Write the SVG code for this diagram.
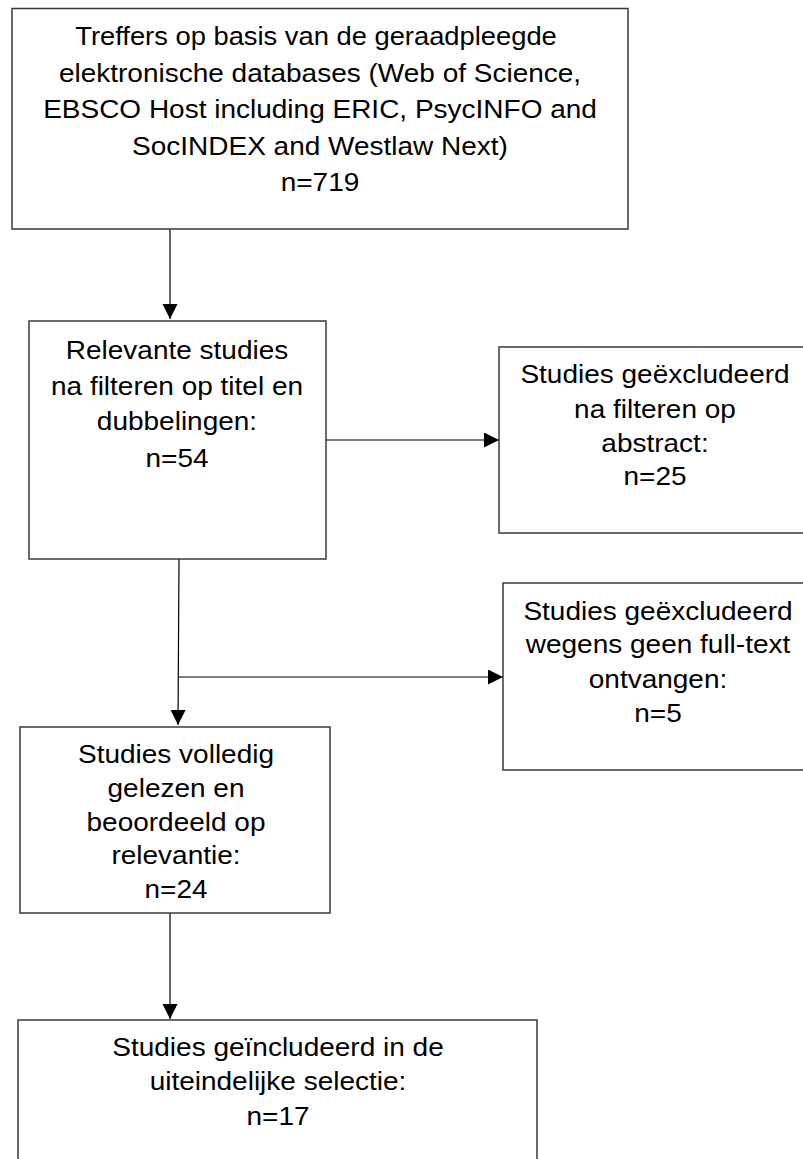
<svg xmlns="http://www.w3.org/2000/svg" width="803" height="1159" viewBox="0 0 803 1159">
  <defs>
    <marker id="arr" markerUnits="userSpaceOnUse" markerWidth="16" markerHeight="16" refX="15" refY="7.5" orient="auto">
      <path d="M0,0 L15,7.5 L0,15 Z" fill="#000"/>
    </marker>
  </defs>
  <style>
    .box { fill: #fff; stroke: #3a3a3a; stroke-width: 1.5; }
    .t { font-family: "Liberation Sans", Arial, sans-serif; font-size: 25px; fill: #000; text-anchor: middle; }
    .c { stroke: #000; stroke-width: 1.2; fill: none; }
  </style>
  <rect width="803" height="1159" fill="#fff"/>

  <g id="connectors">
    <line class="c" x1="170" y1="229" x2="170" y2="319" marker-end="url(#arr)"/>
    <line class="c" x1="326" y1="440" x2="499" y2="440" marker-end="url(#arr)"/>
    <line class="c" x1="179" y1="559" x2="178" y2="725" marker-end="url(#arr)"/>
    <line class="c" x1="179" y1="677" x2="503" y2="677" marker-end="url(#arr)"/>
    <line class="c" x1="170" y1="913" x2="170" y2="1019" marker-end="url(#arr)"/>
  </g>

  <g id="node1">
    <rect class="box" x="12" y="8.5" width="616" height="220.5"/>
    <text class="t" transform="translate(316 0) scale(1.12 1)" x="0" y="45" textLength="430" lengthAdjust="spacingAndGlyphs">Treffers op basis van de geraadpleegde</text>
    <text class="t" transform="translate(320 0) scale(1.12 1)" x="0" y="82">elektronische databases (Web of Science,</text>
    <text class="t" transform="translate(320 0) scale(1.12 1)" x="0" y="118">EBSCO Host including ERIC, PsycINFO and</text>
    <text class="t" transform="translate(320 0) scale(1.12 1)" x="0" y="155">SocINDEX and Westlaw Next)</text>
    <text class="t" transform="translate(320 0) scale(1.12 1)" x="0" y="191">n=719</text>
  </g>

  <g id="node2">
    <rect class="box" x="29" y="321" width="297" height="238"/>
    <text class="t" transform="translate(177 0) scale(1.12 1)" x="0" y="359">Relevante studies</text>
    <text class="t" transform="translate(177 0) scale(1.12 1)" x="0" y="395">na filteren op titel en</text>
    <text class="t" transform="translate(177 0) scale(1.12 1)" x="0" y="430">dubbelingen:</text>
    <text class="t" transform="translate(177 0) scale(1.12 1)" x="0" y="467">n=54</text>
  </g>

  <g id="node3">
    <rect class="box" x="499" y="347" width="312" height="186"/>
    <text class="t" transform="translate(655 0) scale(1.12 1)" x="0" y="383">Studies geëxcludeerd</text>
    <text class="t" transform="translate(655 0) scale(1.12 1)" x="0" y="418">na filteren op</text>
    <text class="t" transform="translate(655 0) scale(1.12 1)" x="0" y="452">abstract:</text>
    <text class="t" transform="translate(655 0) scale(1.12 1)" x="0" y="485">n=25</text>
  </g>

  <g id="node4">
    <rect class="box" x="503" y="583" width="312" height="187"/>
    <text class="t" transform="translate(658 0) scale(1.12 1)" x="0" y="620">Studies geëxcludeerd</text>
    <text class="t" transform="translate(658 0) scale(1.12 1)" x="0" y="653">wegens geen full-text</text>
    <text class="t" transform="translate(658 0) scale(1.12 1)" x="0" y="688">ontvangen:</text>
    <text class="t" transform="translate(658 0) scale(1.12 1)" x="0" y="722">n=5</text>
  </g>

  <g id="node5">
    <rect class="box" x="20" y="727" width="310" height="186"/>
    <text class="t" transform="translate(176 0) scale(1.12 1)" x="0" y="763">Studies volledig</text>
    <text class="t" transform="translate(176 0) scale(1.12 1)" x="0" y="797">gelezen en</text>
    <text class="t" transform="translate(176 0) scale(1.12 1)" x="0" y="831">beoordeeld op</text>
    <text class="t" transform="translate(176 0) scale(1.12 1)" x="0" y="864">relevantie:</text>
    <text class="t" transform="translate(176 0) scale(1.12 1)" x="0" y="898">n=24</text>
  </g>

  <g id="node6">
    <rect class="box" x="18" y="1020" width="519" height="150"/>
    <text class="t" transform="translate(278 0) scale(1.12 1)" x="0" y="1056">Studies geïncludeerd in de</text>
    <text class="t" transform="translate(278 0) scale(1.12 1)" x="0" y="1090">uiteindelijke selectie:</text>
    <text class="t" transform="translate(278 0) scale(1.12 1)" x="0" y="1125">n=17</text>
  </g>
</svg>
